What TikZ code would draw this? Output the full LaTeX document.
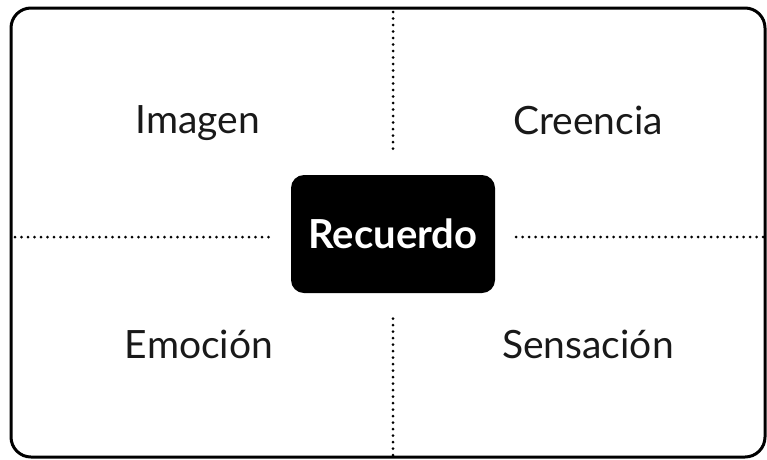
\documentclass[tikz,border=0pt]{standalone}
\usepackage{fontspec}
\setmainfont{Lato}
\usepackage{tikz}
\usetikzlibrary{positioning,calc}

\begin{document}
\begin{tikzpicture}[x=1pt, y=-1pt,
    quad/.style={font=\fontsize{39}{44}\selectfont, text=black!90, inner sep=0pt, anchor=base},
    core/.style={rectangle, rounded corners=13pt, fill=black, text=white, minimum width=204pt, minimum height=118pt, font=\fontsize{40}{46}\selectfont\bfseries},
    sep/.style={line width=3pt, line cap=round, dash pattern=on 0pt off 6.5pt, shorten >=20pt}]
    \useasboundingbox (0,0) rectangle (767,459);
    % outer frame
    \draw [line width=3pt, rounded corners=20pt] (11,8) rectangle (765,457);
    % centre
    \node [core] (memory) at (393,234) {Recuerdo};
    % frame ends of the dotted lines
    \coordinate (n) at (393,12);
    \coordinate (s) at (393,455);
    \coordinate (w) at (15,237);
    \coordinate (e) at (763,237);
    \draw [sep] (n) -- (memory.north);
    \draw [sep] (s) -- (memory.south);
    \draw [sep] (w) -- (memory.west |- w);
    \draw [sep] (e) -- (memory.east |- e);
    % quadrants
    \node [quad] (image) at (198,133) {Imagen};
    \node [quad] (belief) at (588,134) {Creencia};
    \node [quad] (emotion) at (199,358) {Emoción};
    \node [quad] (feeling) at (588,358) {Sensación};
\end{tikzpicture}
\end{document}
